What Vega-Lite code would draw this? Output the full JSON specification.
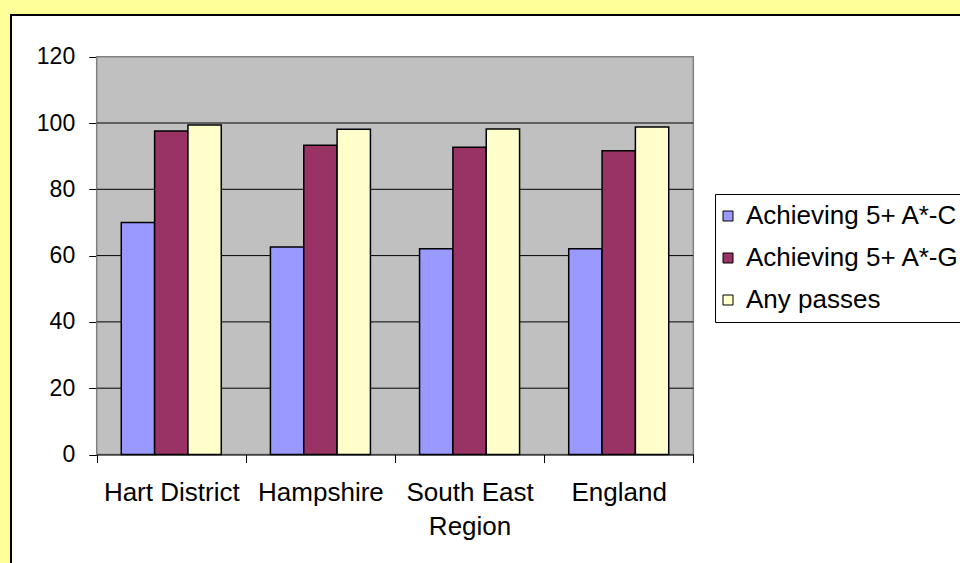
{
  "$schema": "https://vega.github.io/schema/vega-lite/v6.json",
  "width": 949,
  "height": 548,
  "autosize": {"type": "none"},
  "padding": {"left": 11, "top": 15, "right": 0, "bottom": 0},
  "background": "#FFFF99",
  "config": {
    "font": "Liberation Sans",
    "view": {"fill": "white", "stroke": "black", "strokeWidth": 2, "strokeDash": [949, 1497, 548]},
    "axisY": {
      "orient": "left",
      "offset": -85.7,
      "title": null,
      "grid": false,
      "domainColor": "black",
      "domainWidth": 1,
      "tickColor": "black",
      "tickSize": 8,
      "labelFontSize": 23,
      "labelColor": "black",
      "labelPadding": 14,
      "zindex": 1
    }
  },
  "datasets": {
    "results": [
      {"region": "Hart District", "Achieving 5+ A*-C": 70.0, "Achieving 5+ A*-G": 97.6, "Any passes": 99.4},
      {"region": "Hampshire", "Achieving 5+ A*-C": 62.6, "Achieving 5+ A*-G": 93.3, "Any passes": 98.1},
      {"region": "South East Region", "Achieving 5+ A*-C": 62.1, "Achieving 5+ A*-G": 92.7, "Any passes": 98.2},
      {"region": "England", "Achieving 5+ A*-C": 62.1, "Achieving 5+ A*-G": 91.6, "Any passes": 98.8}
    ],
    "gridlines": [{"level": 20}, {"level": 40}, {"level": 60}, {"level": 80}, {"level": 100}]
  },
  "layer": [
    {
      "data": {"values": [{}]},
      "mark": {"type": "rect", "fill": "#C0C0C0", "stroke": "#808080", "strokeWidth": 1.5},
      "encoding": {
        "x": {"datum": 0, "type": "quantitative", "scale": {"domain": [0, 1], "range": [85.7, 682.3]}, "axis": null},
        "x2": {"datum": 1},
        "y": {"datum": 0, "type": "quantitative", "scale": {"domain": [0, 120], "range": [439.5, 41.7]}, "axis": {"title": null, "values": [0, 20, 40, 60, 80, 100, 120]}},
        "y2": {"datum": 120}
      }
    },
    {
      "data": {"name": "gridlines"},
      "mark": {"type": "rule", "color": "black", "strokeWidth": 1},
      "encoding": {
        "x": {"datum": 0, "type": "quantitative", "scale": {"domain": [0, 1], "range": [85.7, 682.3]}, "axis": null},
        "x2": {"datum": 1},
        "y": {"field": "level", "type": "quantitative", "scale": {"domain": [0, 120], "range": [439.5, 41.7]}, "axis": {"title": null, "values": [0, 20, 40, 60, 80, 100, 120]}}
      }
    },
    {
      "data": {"name": "results"},
      "transform": [
        {"fold": ["Achieving 5+ A*-C", "Achieving 5+ A*-G", "Any passes"], "as": ["measure", "percent"]}
      ],
      "mark": {"type": "bar", "stroke": "black", "strokeWidth": 1.5},
      "encoding": {
        "x": {
          "field": "region",
          "type": "nominal",
          "sort": ["Hart District", "Hampshire", "South East Region", "England"],
          "scale": {"range": [85.7, 682.3], "paddingInner": 0, "paddingOuter": 0},
          "axis": {
            "orient": "bottom",
            "offset": -108.5,
            "title": null,
            "tickBand": "extent",
            "domainColor": "black",
            "domainWidth": 1,
            "tickColor": "black",
            "tickSize": 8,
            "labelAngle": 0,
            "labelFontSize": 26,
            "labelColor": "black",
            "labelPadding": 17,
            "labelLineHeight": 34,
            "labelOverlap": false,
            "labelLimit": 0,
            "labelExpr": "datum.value == 'South East Region' ? ['South East', 'Region'] : datum.value",
            "zindex": 1
          }
        },
        "xOffset": {
          "field": "measure",
          "sort": ["Achieving 5+ A*-C", "Achieving 5+ A*-G", "Any passes"],
          "scale": {"paddingInner": 0, "paddingOuter": 0.737}
        },
        "y": {
          "field": "percent",
          "type": "quantitative",
          "scale": {"domain": [0, 120], "range": [439.5, 41.7]},
          "axis": {"title": null, "values": [0, 20, 40, 60, 80, 100, 120]}
        },
        "color": {
          "field": "measure",
          "type": "nominal",
          "scale": {
            "domain": ["Achieving 5+ A*-C", "Achieving 5+ A*-G", "Any passes"],
            "range": ["#9999FF", "#993366", "#FFFFCC"]
          },
          "legend": {
            "orient": "none",
            "legendX": 704,
            "legendY": 179,
            "title": null,
            "fillColor": "white",
            "strokeColor": "black",
            "padding": 9,
            "labelFontSize": 26,
            "labelColor": "black",
            "labelLimit": 500,
            "labelOffset": 5,
            "symbolOffset": -9,
            "symbolType": "square",
            "symbolSize": 100,
            "symbolStrokeColor": "black",
            "symbolStrokeWidth": 1,
            "symbolOpacity": 1,
            "rowPadding": 16
          }
        }
      }
    }
  ],
  "resolve": {"scale": {"x": "independent"}}
}
